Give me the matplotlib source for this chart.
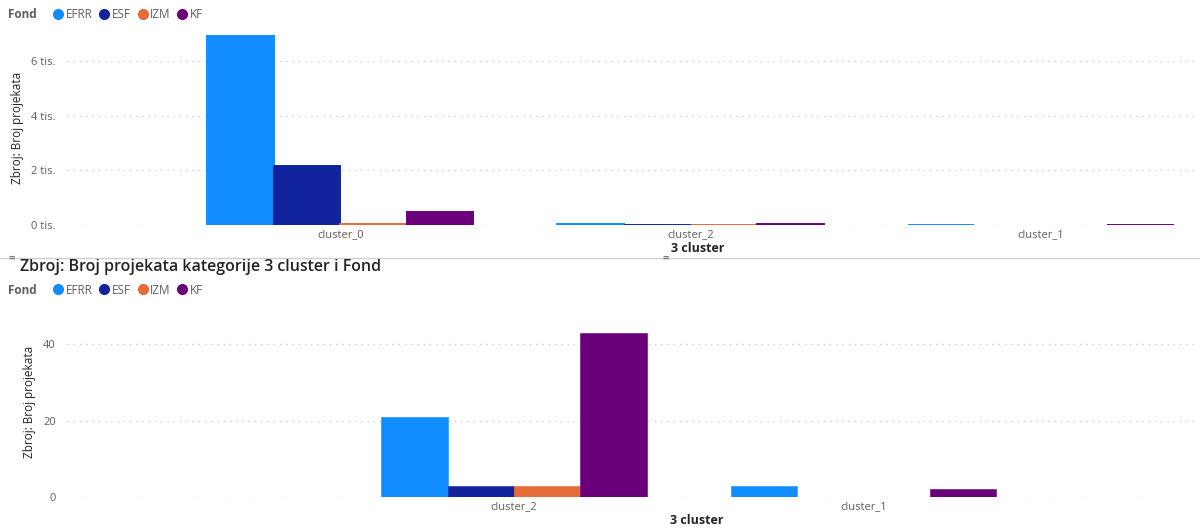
import numpy as np
import matplotlib.pyplot as plt
from matplotlib.lines import Line2D

plt.rcParams['font.family'] = ['Open Sans', 'DejaVu Sans']

funds = ['EFRR', 'ESF', 'IZM', 'KF']
colors = ['#118DFF', '#12239E', '#E66C37', '#6B007B']

# all clusters (top chart)
clusters_all = ['cluster_0', 'cluster_2', 'cluster_1']
efrr_all = [6920, 21, 3]
esf_all = [2160, 3, np.nan]
izm_all = [30, 3, np.nan]
kf_all = [480, 43, 2]

# without cluster_0 (bottom chart)
clusters_sub = ['cluster_2', 'cluster_1']
efrr_sub = [21, 3]
esf_sub = [3, np.nan]
izm_sub = [3, np.nan]
kf_sub = [43, 2]

W, H = 1200, 529
fig = plt.figure(figsize=(12, 5.29), dpi=100)

def px(x0, y0, x1, y1):
    # pixel box -> figure rect
    return [x0 / W, 1 - y1 / H, (x1 - x0) / W, (y1 - y0) / H]

def bars(ax, cats, series, xlim, ymax, ticks, ticklabels, edge):
    x = np.arange(len(cats))
    w = 0.19
    for i, (vals, c) in enumerate(zip(series, colors)):
        ax.bar(x + (i - 1.5) * w, vals, w, color=c, edgecolor=c, linewidth=edge)
    ax.set_xlim(*xlim)
    ax.set_ylim(0, ymax)
    ax.set_xticks(x)
    ax.set_xticklabels(cats, fontsize=8, color='#605E5C')
    ax.set_yticks(ticks)
    ax.set_yticklabels(ticklabels, fontsize=8, color='#605E5C')
    ax.tick_params(axis='x', length=0, pad=3)
    ax.tick_params(axis='y', length=0, pad=8)
    for s in ax.spines.values():
        s.set_visible(False)
    ax.grid(axis='y', color='#C8C6C4', linestyle=(0, (1, 4)), linewidth=0.9)
    ax.set_axisbelow(True)

def legend(y):
    fig.text(8 / W, 1 - y / H, 'Fond', fontsize=8.5, fontweight='bold',
             color='#605E5C', va='center')
    handles = [Line2D([], [], marker='o', linestyle='', markersize=7,
                      markerfacecolor=c, markeredgecolor=c) for c in colors]
    fig.legend(handles, funds, loc='center left', bbox_to_anchor=(46 / W, 1 - y / H),
               ncol=4, frameon=False, fontsize=8.5, handletextpad=0.15,
               columnspacing=0.5, handlelength=1.0, borderpad=0,
               labelcolor='#605E5C')

# top chart
ax1 = fig.add_axes(px(67, 33.7, 1195, 225))
bars(ax1, clusters_all, [efrr_all, esf_all, izm_all, kf_all],
     (-0.78, 2.44), 7000, [0, 2000, 4000, 6000],
     ['0 tis.', '2 tis.', '4 tis.', '6 tis.'], edge=1.4)
legend(15)
fig.text(18 / W, 1 - 128 / H, 'Zbroj: Broj projekata', rotation=90,
         fontsize=8.5, color='#252423', ha='center', va='center')
fig.text(698 / W, 1 - 249 / H, '3 cluster', fontsize=9, fontweight='bold',
         color='#252423', ha='center', va='center')

# separator between the two visuals
fig.add_artist(Line2D([0, 1], [1 - 258 / H] * 2, color='#D0D0D0', linewidth=1))
for hx in (12, 666):
    fig.text(hx / W, 1 - 258 / H, '=', fontsize=8, color='#7A7A7A',
             ha='center', va='center', fontweight='bold')

# bottom chart
fig.text(20 / W, 1 - 267 / H, 'Zbroj: Broj projekata kategorije 3 cluster i Fond',
         fontsize=11.5, fontweight='semibold', color='#252423', va='center')
legend(290)
ax2 = fig.add_axes(px(67, 324.9, 1195, 497))
bars(ax2, clusters_sub, [efrr_sub, esf_sub, izm_sub, kf_sub],
     (-1.28, 1.95), 45, [0, 20, 40], ['0', '20', '40'], edge=0.4)
fig.text(30 / W, 1 - 402 / H, 'Zbroj: Broj projekata', rotation=90,
         fontsize=8.5, color='#252423', ha='center', va='center')
fig.text(697 / W, 1 - 520 / H, '3 cluster', fontsize=9, fontweight='bold',
         color='#252423', ha='center', va='center')

fig.savefig('out.png', dpi=100)
